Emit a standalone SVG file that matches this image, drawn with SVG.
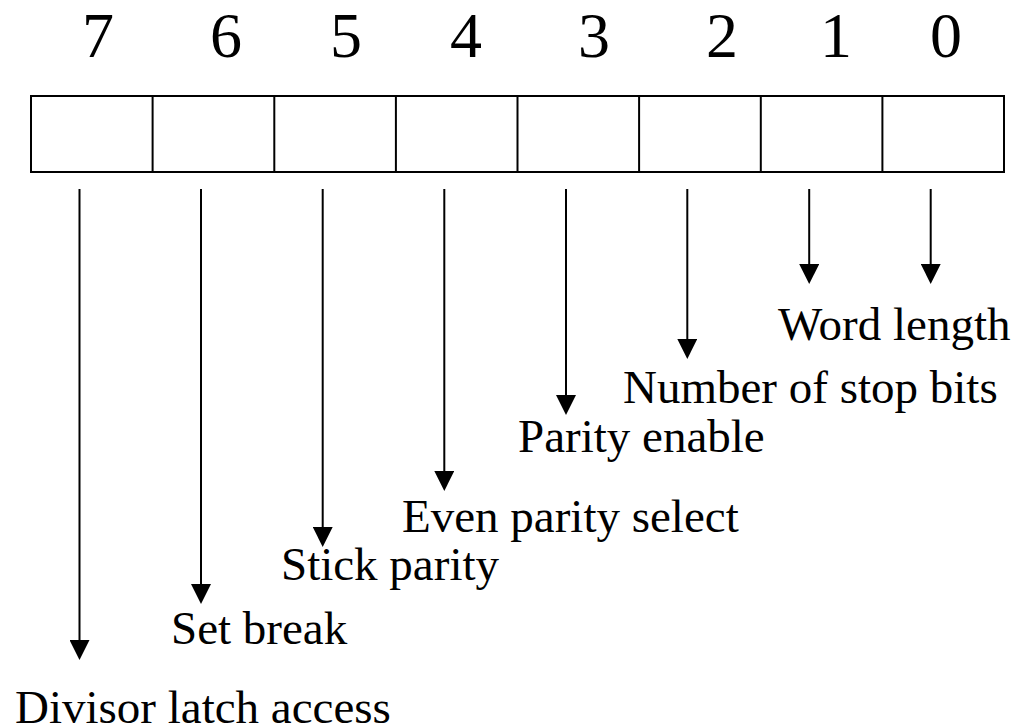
<svg xmlns="http://www.w3.org/2000/svg" width="1019" height="727" viewBox="0 0 1019 727">
<style>
.box{fill:none;stroke:#000;stroke-width:2}
.div{stroke:#000;stroke-width:2}
.conn{stroke:#000;stroke-width:2;fill:none;marker-end:url(#ah)}
.num{font-family:"Liberation Serif","Times New Roman",serif;font-size:64px;fill:#000;text-anchor:middle}
.lbl{font-family:"Liberation Serif","Times New Roman",serif;font-size:47px;fill:#000}
</style>
<defs>
<marker id="ah" viewBox="0 0 20 20" refX="10" refY="10" markerWidth="20" markerHeight="20" markerUnits="userSpaceOnUse" orient="auto">
<path d="M0,0 L20,10 L0,20 Z" fill="#000"/>
</marker>
</defs>
<rect width="1019" height="727" fill="#fff"/>
<g id="register">
<rect class="box" x="31" y="96" width="973" height="76"/>
<line class="div" x1="152.6" y1="96" x2="152.6" y2="172"/>
<line class="div" x1="274.3" y1="96" x2="274.3" y2="172"/>
<line class="div" x1="395.9" y1="96" x2="395.9" y2="172"/>
<line class="div" x1="517.5" y1="96" x2="517.5" y2="172"/>
<line class="div" x1="639.1" y1="96" x2="639.1" y2="172"/>
<line class="div" x1="760.8" y1="96" x2="760.8" y2="172"/>
<line class="div" x1="882.4" y1="96" x2="882.4" y2="172"/>
</g>
<g id="bit-numbers">
<text class="num" x="98" y="57">7</text>
<text class="num" x="226" y="57">6</text>
<text class="num" x="346" y="57">5</text>
<text class="num" x="466" y="57">4</text>
<text class="num" x="594" y="57">3</text>
<text class="num" x="722" y="57">2</text>
<text class="num" x="836" y="57">1</text>
<text class="num" x="946" y="57">0</text>
</g>
<g id="connectors">
<line class="conn" x1="79.5" y1="189" x2="79.5" y2="650"/>
<line class="conn" x1="201" y1="189" x2="201" y2="594"/>
<line class="conn" x1="322.7" y1="189" x2="322.7" y2="537"/>
<line class="conn" x1="444.3" y1="189" x2="444.3" y2="481"/>
<line class="conn" x1="566" y1="189" x2="566" y2="405"/>
<line class="conn" x1="687.3" y1="189" x2="687.3" y2="349"/>
<line class="conn" x1="809.2" y1="189" x2="809.2" y2="274"/>
<line class="conn" x1="930.7" y1="189" x2="930.7" y2="274"/>
</g>
<g id="label-divisor"><text class="lbl" x="15" y="723">Divisor latch access</text></g>
<g id="label-setbreak"><text class="lbl" x="171" y="644">Set break</text></g>
<g id="label-stick"><text class="lbl" x="281" y="580">Stick parity</text></g>
<g id="label-even"><text class="lbl" x="402" y="532">Even parity select</text></g>
<g id="label-parity"><text class="lbl" x="518" y="452">Parity enable</text></g>
<g id="label-stop"><text class="lbl" x="623" y="403">Number of stop bits</text></g>
<g id="label-word"><text class="lbl" x="778" y="340">Word length</text></g>
</svg>
